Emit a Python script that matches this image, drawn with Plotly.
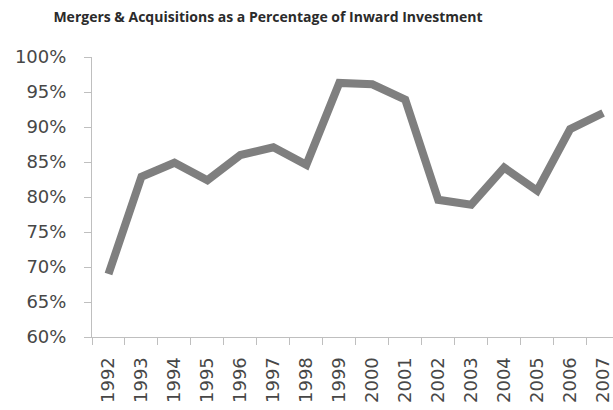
import plotly.graph_objects as go

years = [str(y) for y in range(1992, 2008)]
ma_share = [69.0, 82.9, 84.9, 82.4, 86.0, 87.1, 84.6, 96.3, 96.1, 93.9,
            79.6, 78.9, 84.2, 80.9, 89.7, 92.0]
y_ticks = [60, 65, 70, 75, 80, 85, 90, 95, 100]
y_tick_labels = [f"{v}%" for v in y_ticks]
title = "Mergers & Acquisitions as a Percentage of Inward Investment"

fig = go.Figure()
fig.add_trace(go.Scatter(
    x=years, y=ma_share, mode="lines",
    line=dict(color="#7f7f7f", width=8),
    hoverinfo="skip", showlegend=False,
))

axis_col = "#bfbfbf"
txt_col = "#474747"
fig.update_layout(
    width=613, height=410,
    margin=dict(l=92, r=0, t=57, b=73, autoexpand=False),
    paper_bgcolor="white", plot_bgcolor="white",
    title=dict(text=f"<b>{title}</b>", x=268/613, xanchor="center",
               xref="container", y=1-17/410, yref="container", yanchor="middle",
               font=dict(family="Open Sans", size=14, color="#2b2b2b")),
    font=dict(family="DejaVu Sans", size=18, color=txt_col),
)
fig.update_xaxes(
    type="category", range=[-0.5, 15.3], tickson="boundaries",
    ticks="outside", ticklen=7, tickcolor=axis_col, tickwidth=1,
    showline=True, linecolor=axis_col, linewidth=1,
    showgrid=False, zeroline=False, tickangle=-90, automargin=False,
    tickfont=dict(family="DejaVu Sans", size=18, color=txt_col),
    ticklabelstandoff=12,
)
fig.update_yaxes(
    range=[60, 100], tickvals=y_ticks, ticktext=y_tick_labels,
    ticks="outside", ticklen=7, tickcolor=axis_col, tickwidth=1,
    showline=True, linecolor=axis_col, linewidth=1,
    showgrid=False, zeroline=False, automargin=False,
    tickfont=dict(family="DejaVu Sans", size=18, color=txt_col),
    ticklabelstandoff=14,
)

fig.write_html(
    "out.html",
    config={"displayModeBar": False},
    post_script="document.body.style.margin='0';document.body.style.overflow='hidden';",
)
